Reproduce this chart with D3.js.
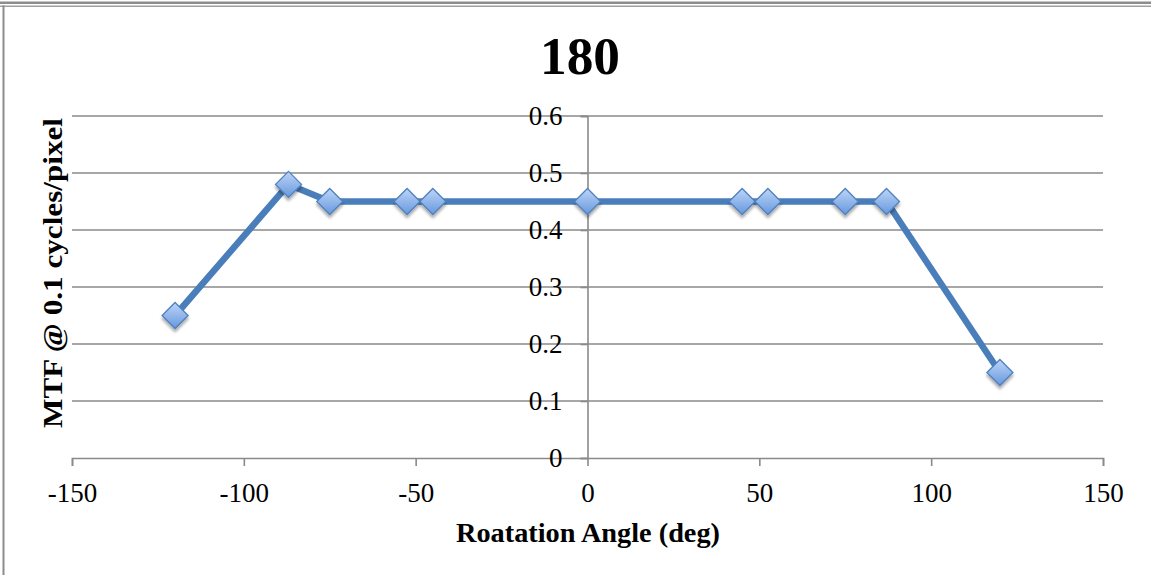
<!DOCTYPE html>
<html>
<head>
<meta charset="utf-8">
<script src="https://cdn.jsdelivr.net/npm/d3@7"></script>
<style>
  html, body { margin: 0; padding: 0; background: #fff; }
  svg { display: block; }
</style>
</head>
<body>
<svg id="chart" width="1151" height="575"></svg>
<script>
// Rotation angle (deg) and measured MTF at 0.1 cycles/pixel
const angles = [-120, -87, -75, -52.5, -45, 0, 45, 52.5, 75, 87, 120];
const mtf    = [0.25, 0.48, 0.45, 0.45, 0.45, 0.45, 0.45, 0.45, 0.45, 0.45, 0.15];
const xTicks = [-150, -100, -50, 0, 50, 100, 150];
const yTicks = [0, 0.1, 0.2, 0.3, 0.4, 0.5, 0.6];
const chartTitle = "180";
const xTitle = "Roatation Angle (deg)";
const yTitle = "MTF @ 0.1 cycles/pixel";

const W = 1151, H = 575;
const plot = { left: 72, right: 1103, top: 116, bottom: 458 };
const serif = "'Liberation Serif', 'Times New Roman', serif";
const gridColor = "#8a8a8a";
const lineColor = "#4a7ebb";

const svg = d3.select("#chart");

const x = d3.scaleLinear().domain([-150, 150]).range([plot.left, plot.right]);
const y = d3.scaleLinear().domain([0, 0.6]).range([plot.bottom, plot.top]);

// outer frame
svg.append("rect").attr("x", 0).attr("y", 1.5).attr("width", W).attr("height", 2.5).attr("fill", "#8c8c8c");
svg.append("rect").attr("x", 0).attr("y", 5.5).attr("width", W).attr("height", 1.5).attr("fill", "#a0a0a0");
svg.append("rect").attr("x", 2.5).attr("y", 5.5).attr("width", 2).attr("height", H).attr("fill", "#8c8c8c");

// defs: marker gradient and shadow
const defs = svg.append("defs");
const grad = defs.append("linearGradient").attr("id", "mk").attr("x1", 0).attr("y1", 0).attr("x2", 0).attr("y2", 1);
grad.append("stop").attr("offset", "0%").attr("stop-color", "#bcd5f8");
grad.append("stop").attr("offset", "100%").attr("stop-color", "#6898dd");
const sh = defs.append("filter").attr("id", "sh").attr("x", "-50%").attr("y", "-50%").attr("width", "200%").attr("height", "200%");
sh.append("feGaussianBlur").attr("in", "SourceAlpha").attr("stdDeviation", 1.6).attr("result", "b");
sh.append("feOffset").attr("in", "b").attr("dx", 0).attr("dy", 2.5).attr("result", "o");
sh.append("feComponentTransfer").attr("in", "o").attr("result", "s")
  .append("feFuncA").attr("type", "linear").attr("slope", 0.35);
const merge = sh.append("feMerge");
merge.append("feMergeNode").attr("in", "s");
merge.append("feMergeNode").attr("in", "SourceGraphic");

// horizontal gridlines
svg.append("g").selectAll("line").data(yTicks.filter(d => d > 0)).join("line")
  .attr("x1", plot.left).attr("x2", plot.right)
  .attr("y1", d => y(d)).attr("y2", d => y(d))
  .attr("stroke", gridColor).attr("stroke-width", 1.6);

// x axis (at y = 0)
const xAxis = svg.append("g")
  .attr("transform", `translate(0,${y(0)})`)
  .call(d3.axisBottom(x).tickValues(xTicks).tickSize(8).tickPadding(17).tickFormat(d3.format("d")));
xAxis.select(".domain").attr("stroke", gridColor).attr("stroke-width", 1.6);
xAxis.selectAll(".tick line").attr("stroke", gridColor).attr("stroke-width", 1.6);
xAxis.selectAll(".tick text")
  .attr("font-family", serif).attr("font-size", 27).attr("fill", "#000")
  .text(d => d3.format("d")(d).replace("\u2212", "-"));

// y axis (at x = 0)
const yAxis = svg.append("g")
  .attr("transform", `translate(${x(0)},0)`)
  .call(d3.axisLeft(y).tickValues(yTicks).tickSize(7).tickPadding(18).tickFormat(d => d === 0 ? "0" : d3.format(".1f")(d)));
yAxis.select(".domain").attr("stroke", gridColor).attr("stroke-width", 1.6);
yAxis.selectAll(".tick line").attr("stroke", gridColor).attr("stroke-width", 1.6);
yAxis.selectAll(".tick text")
  .attr("font-family", serif).attr("font-size", 27).attr("fill", "#000");

// data series
const pts = angles.map((a, i) => ({ a, v: mtf[i] }));
svg.append("path").datum(pts)
  .attr("fill", "none").attr("stroke", lineColor).attr("stroke-width", 6.5)
  .attr("stroke-linejoin", "round")
  .attr("d", d3.line().x(d => x(d.a)).y(d => y(d.v)));

const r = 13;
svg.append("g").selectAll("path").data(pts).join("path")
  .attr("transform", d => `translate(${x(d.a)},${y(d.v)})`)
  .attr("d", `M0,${-r}L${r},0L0,${r}L${-r},0Z`)
  .attr("fill", "url(#mk)").attr("stroke", "#4f81bd").attr("stroke-width", 1.3)
  .attr("filter", "url(#sh)");

// titles
svg.append("text").attr("x", 580).attr("y", 74).attr("text-anchor", "middle")
  .attr("font-family", serif).attr("font-weight", "bold").attr("font-size", 52)
  .attr("textLength", 80).attr("lengthAdjust", "spacingAndGlyphs")
  .text(chartTitle);

svg.append("text").attr("x", 588).attr("y", 542).attr("text-anchor", "middle")
  .attr("font-family", serif).attr("font-weight", "bold").attr("font-size", 27)
  .attr("textLength", 264).attr("lengthAdjust", "spacingAndGlyphs")
  .text(xTitle);

svg.append("text").attr("transform", "translate(62,273) rotate(-90)").attr("text-anchor", "middle")
  .attr("font-family", serif).attr("font-weight", "bold").attr("font-size", 27)
  .attr("textLength", 310).attr("lengthAdjust", "spacingAndGlyphs")
  .text(yTitle);
</script>
</body>
</html>
